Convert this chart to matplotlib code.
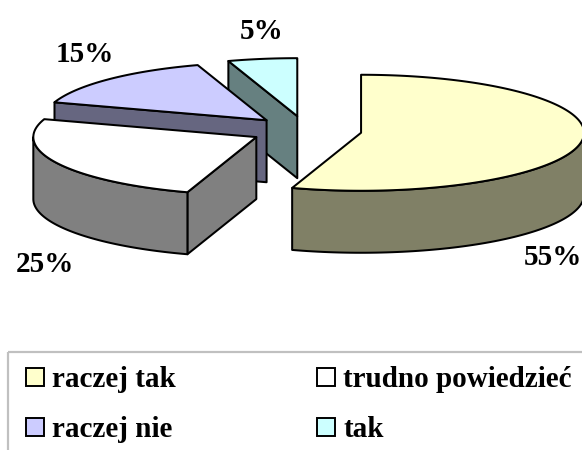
import numpy as np
import matplotlib
matplotlib.use("Agg")
import matplotlib.pyplot as plt
from matplotlib.patches import Polygon, Rectangle

plt.rcParams["font.family"] = ["Liberation Serif", "DejaVu Serif"]
plt.rcParams["font.weight"] = "bold"

# ==========================
# DATA
# ==========================

labels = ["raczej tak", "trudno powiedzieć", "raczej nie", "tak"]
shares = [55, 25, 15, 5]
top_colors = ["#ffffcc", "#ffffff", "#ccccff", "#ccffff"]
side_colors = ["#808066", "#808080", "#666680", "#668080"]

# label anchor points (pixels, x centre / baseline), same order as shares
label_pos = [(553, 265), (45, 272), (85, 62), (262, 39)]

# ==========================
# LAYOUT (pixel units)
# ==========================

W, H = 582, 450
cx, cy = 306, 130.5    # pie centre
rx, ry = 223, 58       # ellipse radii of the top face
depth = 62             # thickness of the pie
explode = 0.25         # explode distance as fraction of radius

fig = plt.figure(figsize=(W / 100, H / 100), dpi=100)
ax = fig.add_axes([0, 0, 1, 1])
ax.set_xlim(0, W)
ax.set_ylim(H, 0)
ax.axis("off")


def rim(ox, oy, ang, dz=0.0):
    a = np.radians(ang)
    return ox + rx * np.sin(a), oy - ry * np.cos(a) + dz


def face(pts, color):
    ax.add_patch(Polygon(pts, closed=True, facecolor=color, edgecolor="black",
                         linewidth=1.45, joinstyle="round"))


bounds = np.concatenate([[0], np.cumsum(shares)]) / sum(shares) * 360

slices = []
for i in range(len(shares)):
    a0, a1 = bounds[i], bounds[i + 1]
    mid = np.radians((a0 + a1) / 2)
    ox = cx + explode * rx * np.sin(mid)
    oy = cy - explode * ry * np.cos(mid)
    slices.append((oy, i, a0, a1, ox))

# back to front
for oy, i, a0, a1, ox in sorted(slices):
    side = side_colors[i]

    # radial cut faces, only those turned to the viewer
    for ang, normal in ((a0, a0 - 90), (a1, a1 + 90)):
        if np.cos(np.radians(normal)) < -1e-6:
            px, py = rim(ox, oy, ang)
            face([(ox, oy), (px, py), (px, py + depth), (ox, oy + depth)], side)

    # curved outer wall on the front half
    s0, s1 = max(a0, 90), min(a1, 270)
    if s1 > s0:
        arc = np.linspace(s0, s1, 80)
        topx, topy = rim(ox, oy, arc)
        pts = list(zip(topx, topy)) + list(zip(topx[::-1], topy[::-1] + depth))
        face(pts, side)

    # top face
    arc = np.linspace(a0, a1, 160)
    tx, ty = rim(ox, oy, arc)
    face([(ox, oy)] + list(zip(tx, ty)), top_colors[i])

# percentage labels
for (lx, ly), v in zip(label_pos, shares):
    ax.text(lx, ly, f"{v}%", ha="center", va="baseline", fontsize=21,
            fontweight="bold")

# ==========================
# LEGEND
# ==========================

ax.add_patch(Rectangle((8, 352), W + 20, H, facecolor="none",
                       edgecolor="#c0c0c0", linewidth=1.6))

col_x = [26, 317]
row_y = [387, 437]
box = 18
for k, (lab, col) in enumerate(zip(labels, top_colors)):
    r, c = divmod(k, 2)
    x0, yb = col_x[c], row_y[r]
    ax.add_patch(Rectangle((x0, yb - box - 1), box, box, facecolor=col,
                           edgecolor="black", linewidth=1.4))
    ax.text(x0 + box + 8, yb, lab, ha="left", va="baseline", fontsize=21,
            fontweight="bold")

fig.savefig("out.png", dpi=100)
